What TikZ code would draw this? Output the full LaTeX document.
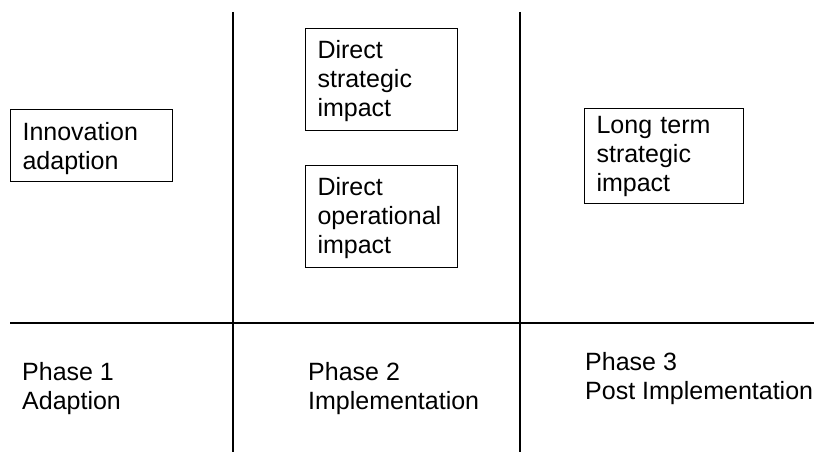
\documentclass[tikz,border=0pt]{standalone}
\usepackage{fontspec}
\setmainfont{Liberation Sans}
\begin{document}
\begin{tikzpicture}[x=1pt,y=-1pt,
  txt/.style={font=\fontsize{25}{29}\selectfont},
  box/.style={txt, draw, line width=1.1pt, anchor=north west, align=left,
              inner xsep=12pt, inner ysep=0pt},
  label/.style={txt, anchor=north west, align=left, inner sep=0pt},
  grid/.style={line width=1.1pt}]
\useasboundingbox (0,0) rectangle (814,452);

% phase grid
\coordinate (v1t) at (233,12);  \coordinate (v1b) at (233,452);
\coordinate (v2t) at (520,12);  \coordinate (v2b) at (520,452);
\coordinate (hl) at (10,323);   \coordinate (hr) at (814,323);
\draw[grid] (v1t) -- (v1b);
\draw[grid] (v2t) -- (v2b);
\draw[grid] (hl) -- (hr);

% impact boxes
\node[box, text width=138pt] (innov) at (10,109)
  {\rule{0pt}{31pt}Innovation\\adaption\rule[-12pt]{0pt}{12pt}};
\node[box, text width=128pt] (dstrat) at (305,28)
  {\rule{0pt}{30pt}Direct\\strategic\\impact\rule[-14pt]{0pt}{14pt}};
\node[box, text width=128pt] (doper) at (305,165)
  {\rule{0pt}{30pt}Direct\\operational\\impact\rule[-14pt]{0pt}{14pt}};
\node[box, text width=135pt] (lstrat) at (584,108)
  {\rule{0pt}{25pt}Long term\\strategic\\impact\rule[-12pt]{0pt}{12pt}};

% phase labels
\node[label] (p1) at (22,360) {\rule{0pt}{20pt}Phase 1\\Adaption};
\node[label] (p2) at (308,360) {\rule{0pt}{20pt}Phase 2\\Implementation};
\node[label] (p3) at (585,350) {\rule{0pt}{20pt}Phase 3\\Post Implementation};
\end{tikzpicture}
\end{document}
